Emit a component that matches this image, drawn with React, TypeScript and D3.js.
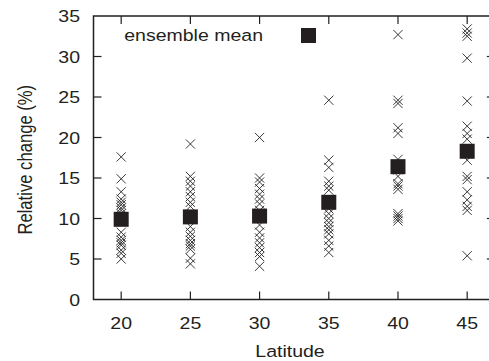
import React, { useEffect, useRef } from 'react';
import * as d3 from 'd3';

// latitude bands and per-model relative change (%)
const latitudes = [20, 25, 30, 35, 40, 45];

const lat20 = [17.6, 14.9, 13.3, 12.4, 12.0, 11.7, 11.3, 11.0, 10.6, 8.3, 7.7, 7.3, 7.0, 6.7, 6.1, 5.7, 5.0];
const lat25 = [19.2, 15.2, 14.6, 14.0, 13.3, 12.7, 12.0, 11.5, 9.0, 8.3, 7.8, 7.3, 6.9, 6.6, 6.2, 5.1, 4.4];
const lat30 = [20.0, 15.0, 14.5, 13.7, 13.0, 12.4, 11.8, 11.0, 9.2, 8.3, 7.6, 7.0, 6.4, 5.8, 5.3, 4.1];
const lat35 = [24.6, 17.2, 16.3, 14.6, 14.0, 13.5, 11.2, 10.6, 10.0, 9.5, 9.0, 8.6, 8.1, 7.3, 6.6, 5.8];
const lat40 = [32.7, 24.6, 24.2, 21.2, 20.5, 17.3, 16.0, 15.2, 14.3, 14.0, 13.6, 10.6, 10.3, 10.0, 9.7];
const lat45 = [33.4, 32.9, 32.5, 29.8, 24.5, 21.4, 20.5, 19.8, 17.2, 15.2, 14.8, 13.3, 12.3, 11.5, 11.0, 5.4];

const ensembleMean = [9.9, 10.2, 10.3, 12.0, 16.4, 18.3];

const xTicks = [20, 25, 30, 35, 40, 45];
const yTicks = [0, 5, 10, 15, 20, 25, 30, 35];

const App = () => {
  const ref = useRef<SVGSVGElement>(null);

  useEffect(() => {
    const svg = d3.select(ref.current);
    svg.selectAll('*').remove();

    const width = 489;
    const height = 361;
    const left = 93.5;
    const top = 16;
    const bottom = 299.5;
    const font = 'Liberation Sans, Arial, Helvetica, sans-serif';
    const ink = '#231f20';

    const x = d3.scaleLinear().domain([18, 47]).range([left, left + 29 * 13.84]);
    const y = d3.scaleLinear().domain([0, 35]).range([bottom, top]);
    const right = x(47);

    svg.attr('width', width).attr('height', height);

    // the original figure is stretched a bit horizontally, text included
    const addText = (px: number, py: number, str: string | number, anchor: string, rot = 0) =>
      svg
        .append('text')
        .attr('transform', `translate(${px},${py}) scale(1.22,1.04) rotate(${rot})`)
        .attr('text-anchor', anchor)
        .attr('font-family', font)
        .attr('font-size', 16)
        .attr('fill', ink)
        .text(str);

    const groups = [lat20, lat25, lat30, lat35, lat40, lat45];
    const points = groups.flatMap((vals, i) => vals.map((v) => ({ lat: latitudes[i], v })));

    const s = 4.6;
    svg
      .append('g')
      .selectAll('path')
      .data(points)
      .join('path')
      .attr('d', (d) => {
        const cx = x(d.lat);
        const cy = y(d.v);
        return `M${cx - s},${cy - s}L${cx + s},${cy + s}M${cx - s},${cy + s}L${cx + s},${cy - s}`;
      })
      .attr('stroke', '#222')
      .attr('stroke-width', 0.9)
      .attr('fill', 'none');

    const sq = 15;
    svg
      .append('g')
      .selectAll('rect')
      .data(ensembleMean)
      .join('rect')
      .attr('x', (_, i) => x(latitudes[i]) - sq / 2)
      .attr('y', (d) => y(d) - sq / 2)
      .attr('width', sq)
      .attr('height', sq)
      .attr('fill', ink);

    // legend
    addText(263, 41, 'ensemble mean', 'end');
    svg
      .append('rect')
      .attr('x', 301)
      .attr('y', 28)
      .attr('width', sq)
      .attr('height', sq)
      .attr('fill', ink);

    // frame
    svg
      .append('rect')
      .attr('x', left)
      .attr('y', top)
      .attr('width', right - left)
      .attr('height', bottom - top)
      .attr('fill', 'none')
      .attr('stroke', ink)
      .attr('stroke-width', 1.5);

    const tl = 8;
    const ticks = svg.append('g').attr('stroke', ink).attr('stroke-width', 1.2);
    xTicks.forEach((t) => {
      ticks.append('line').attr('x1', x(t)).attr('x2', x(t)).attr('y1', bottom).attr('y2', bottom - tl);
      ticks.append('line').attr('x1', x(t)).attr('x2', x(t)).attr('y1', top).attr('y2', top + tl);
    });
    yTicks.slice(1, -1).forEach((t) => {
      ticks.append('line').attr('x1', left).attr('x2', left + tl).attr('y1', y(t)).attr('y2', y(t));
      ticks.append('line').attr('x1', right).attr('x2', right - tl).attr('y1', y(t)).attr('y2', y(t));
    });

    xTicks.forEach((t) => addText(x(t), 329, t, 'middle'));
    yTicks.forEach((t) => addText(80, y(t) + 6, t, 'end'));

    addText(290, 357, 'Latitude', 'middle');
    addText(32, (top + bottom) / 2 + 2, 'Relative change (%)', 'middle', -90);
  }, []);

  return (
    <svg
      ref={ref}
      style={{ position: 'absolute', left: 0, top: 0, background: '#fff', display: 'block' }}
    />
  );
};

export default App;
